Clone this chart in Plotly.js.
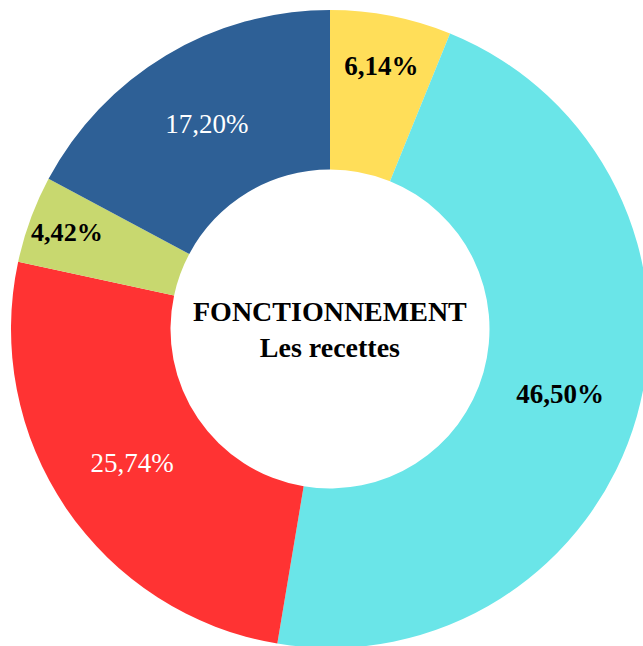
<!DOCTYPE html>
<html>
<head>
<meta charset="utf-8">
<script src="https://cdn.plot.ly/plotly-3.0.1.min.js"></script>
<style>
html, body { margin: 0; padding: 0; overflow: hidden; background: #fff; }
#chart { width: 660px; height: 658px; }
</style>
</head>
<body>
<div id="chart"></div>
<script>
const categories = ["Part A", "Part B", "Part C", "Part D", "Part E"];
const values = [6.14, 46.50, 25.74, 4.42, 17.20];
const colors = ["#FFDE59", "#6AE5E8", "#FF3333", "#C8D86F", "#2E6096"];
const textColors = ["#000000", "#000000", "#FFFFFF", "#000000", "#FFFFFF"];
const boldLabel = [true, true, false, true, false];
const centerTitle = "FONCTIONNEMENT";
const centerSubtitle = "Les recettes";

const labelsText = values.map((v, i) => {
  const s = v.toFixed(2).replace('.', ',') + '%';
  return boldLabel[i] ? '<b>' + s + '</b>' : s;
});
const serif = 'Liberation Serif';

const trace = {
  type: 'pie',
  labels: categories,
  values: values,
  text: labelsText,
  textinfo: 'text',
  hoverinfo: 'label+text',
  sort: false,
  direction: 'clockwise',
  rotation: 0,
  hole: 0.5,
  marker: { colors: colors, line: { width: 0 } },
  textposition: 'inside',
  insidetextorientation: 'horizontal',
  textfont: { family: serif, size: 27, color: textColors },
  insidetextfont: { family: serif, size: 27, color: textColors },
  showlegend: false
};

const layout = {
  width: 660,
  height: 658,
  margin: { l: 11, r: 11, t: 10, b: 10 },
  paper_bgcolor: '#ffffff',
  plot_bgcolor: '#ffffff',
  showlegend: false,
  font: { family: serif },
  annotations: [{
    xref: 'paper', yref: 'paper', x: 0.5, y: 0.5,
    showarrow: false,
    align: 'center',
    text: '<b>' + centerTitle + '</b><br><b>' + centerSubtitle + '</b>',
    font: { family: serif, size: 28, color: '#000000' }
  }]
};

Plotly.newPlot('chart', [trace], layout, { displayModeBar: false, staticPlot: true });
</script>
</body>
</html>
